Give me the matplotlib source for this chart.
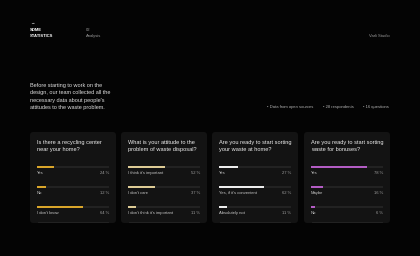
import matplotlib.pyplot as plt
from matplotlib.patches import FancyBboxPatch

plt.rcParams['font.family'] = ['Liberation Sans', 'DejaVu Sans']

# survey data
questions = ["Is there a recycling center\nnear your home?",
             "What is your attitude to the\nproblem of waste disposal?",
             "Are you ready to start sorting\nyour waste at home?",
             "Are you ready to start sorting\nwaste for bonuses?"]
answers = [["Yes", "No", "I don't know"],
           ["I think it's important", "I don't care", "I don't think it's important"],
           ["Yes", "Yes, if it's convenient", "Absolutely not"],
           ["Yes", "Maybe", "No"]]
percents = [[24, 12, 64],
            [52, 37, 11],
            [27, 62, 11],
            [78, 16, 6]]
bar_colors = ["#d9a52a", "#ddcb95", "#ececec", "#b35cc4"]

intro = ("Before starting to work on the\ndesign, our team collected all the\n"
         "necessary data about people's\nattitudes to the waste problem.")
meta = ["• Data from open sources", "• 28 respondents", "• 16 questions"]

W, H = 420, 256
BG = "#040404"
CARD = "#131313"

fig = plt.figure(figsize=(W / 100, H / 100), dpi=100, facecolor=BG)
bg = fig.add_axes([0, 0, 1, 1])
bg.set_xlim(0, W)
bg.set_ylim(H, 0)
bg.axis('off')
bg.set_facecolor(BG)

# header
bg.text(30, 22.7, "→", color="white", fontsize=3.2, va='center', ha='left')
bg.text(30, 29.7, "SOME", color="white", fontsize=3.0, fontweight='bold', va='center')
bg.text(30, 35.7, "STATISTICS", color="white", fontsize=3.0, fontweight='bold', va='center')
bg.text(86, 29.7, "02", color="#9a9a9a", fontsize=3.0, va='center')
bg.text(86, 35.7, "Analysis", color="#9a9a9a", fontsize=3.0, va='center')
bg.text(390, 35.7, "Varli Studio", color="#9a9a9a", fontsize=3.0, va='center', ha='right')

# intro paragraph
bg.text(30, 83, intro, color="#dddddd", fontsize=4.0, va='top', ha='left', linespacing=1.6)

# meta info
meta_x = [267, 323, 363]
for x, m in zip(meta_x, meta):
    bg.text(x, 107.3, m, color="#b0b0b0", fontsize=3.0, va='center', ha='left')

# cards
card_x = [30, 121, 212, 304]
card_w = 86
card_top, card_bot = 132, 223
for i, cx in enumerate(card_x):
    card = FancyBboxPatch((cx, card_top), card_w, card_bot - card_top,
                          boxstyle="round,pad=0,rounding_size=3",
                          facecolor=CARD, edgecolor='none')
    bg.add_patch(card)
    bg.plot([cx + 8, cx + card_w - 8], [card_bot - 0.6, card_bot - 0.6],
            color="#262626", lw=0.6)
    bg.text(cx + 7, 140.2, questions[i], color="#eeeeee", fontsize=4.1,
            va='top', ha='left', linespacing=1.4)

    # bar axes (one row every 20 px, first row centred at 167 px)
    x0 = cx + 7
    x1 = cx + card_w - 7
    top_px, bot_px = 160, 220
    step = 20.0
    ax = fig.add_axes([x0 / W, 1 - bot_px / H, (x1 - x0) / W, (bot_px - top_px) / H])
    ax.set_xlim(0, 100)
    ax.set_ylim((bot_px - 167) / step, (top_px - 167) / step)
    ax.axis('off')
    ax.patch.set_alpha(0)
    rows = list(range(len(answers[i])))
    ax.barh(rows, [100] * len(rows), height=2 / step,
            color="#222222", edgecolor='none')
    ax.barh(rows, percents[i], height=2 / step,
            color=bar_colors[i], edgecolor='none')
    for r in rows:
        ax.text(0, r + 6.0 / step, answers[i][r], color="#c8c8c8", fontsize=3.0,
                va='center', ha='left')
        ax.text(100, r + 6.0 / step, f"{percents[i][r]} %", color="#a0a0a0",
                fontsize=3.0, va='center', ha='right')

fig.savefig("out.png", dpi=100, facecolor=BG)
